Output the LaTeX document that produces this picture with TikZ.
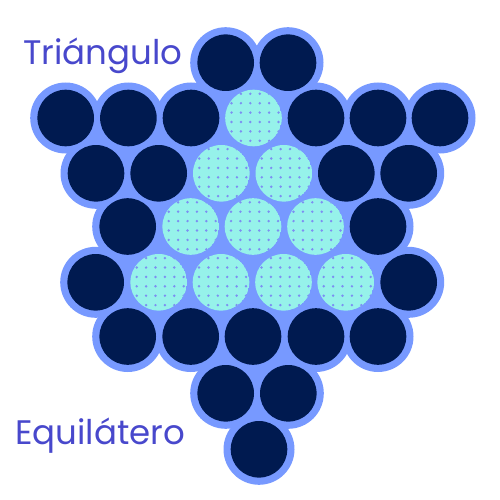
\documentclass[tikz,border=0pt]{standalone}
\usepackage{fontspec}
\setmainfont{Poppins}
\definecolor{navy}{HTML}{001A50}
\definecolor{halocol}{HTML}{7799FF}
\definecolor{cyancol}{HTML}{96F2EA}
\definecolor{dotcol}{HTML}{7C8EF2}
\definecolor{textcol}{HTML}{4848CC}
\begin{document}
\begin{tikzpicture}[x=1pt,y=-1pt,
  halo/.style={fill=halocol},
  darkball/.style={fill=navy},
  cyanball/.style={fill=cyancol},
  label/.style={font=\fontsize{34}{34}\selectfont, text=textcol, inner sep=0pt, anchor=base west}]
\useasboundingbox (0,0) rectangle (500,500);
% background union
\fill[halo] (225.7,62.7) -- (288,62.7) -- (316,118) -- (378,118) -- (440,118) -- (408.7,173.3)
  -- (378,226.5) -- (408.7,282.3) -- (378,336.5) -- (316,336.5) -- (288.3,393.3) -- (259,449.3)
  -- (225.7,393.3) -- (190.7,336.5) -- (127.7,336.5) -- (95.7,282.3) -- (127.7,226.5) -- (96,173.3)
  -- (65.7,118) -- (128.4,118) -- (191,118) -- cycle;
\foreach \p in {(225.7,62.7),(288,62.7),
  (65.7,118),(128.4,118),(191,118),(253.5,118),(316,118),(378,118),(440,118),
  (96,173.3),(158.7,173.3),(221.3,173.3),(283.8,173.3),(346.3,173.3),(408.7,173.3),
  (127.7,226.5),(190.7,226.5),(253,226.5),(315.5,226.5),(378,226.5),
  (95.7,282.3),(158.7,282.3),(221,282.3),(283.5,282.3),(345.7,282.3),(408.7,282.3),
  (127.7,336.5),(190.7,336.5),(253,336.5),(316,336.5),(378,336.5),
  (225.7,393.3),(288.3,393.3),(259,449.3)}
  \fill[halo] \p circle (35.5);
% dark balls
\foreach \p in {(225.7,62.7),(288,62.7),
  (65.7,118),(128.4,118),(191,118),(316,118),(378,118),(440,118),
  (96,173.3),(158.7,173.3),(346.3,173.3),(408.7,173.3),
  (127.7,226.5),(378,226.5),
  (95.7,282.3),(408.7,282.3),
  (127.7,336.5),(190.7,336.5),(253,336.5),(316,336.5),(378,336.5),
  (225.7,393.3),(288.3,393.3),(259,449.3)}
  \fill[darkball] \p circle (28.3);
% cyan balls with dots
\foreach \cx/\cy in {253.5/118, 221.3/173.3, 283.8/173.3, 190.7/226.5, 253/226.5, 315.5/226.5,
  158.7/282.3, 221/282.3, 283.5/282.3, 345.7/282.3}{
  \begin{scope}
    \clip (\cx,\cy) circle (28.3);
    \fill[cyanball] (\cx,\cy) circle (28.3);
    \foreach \i in {-22,-12.6,-3.2,6.2,15.6,25}
      \foreach \j in {-24.2,-14.8,-5.4,4,13.4,22.8}
        \fill[dotcol] (\cx+\i,\cy+\j) circle (1.35);
  \end{scope}}
\node[label] (tri) at (23,65) {Triángulo};
\node[label] (equi) at (15,444) {Equilátero};
\end{tikzpicture}
\end{document}
